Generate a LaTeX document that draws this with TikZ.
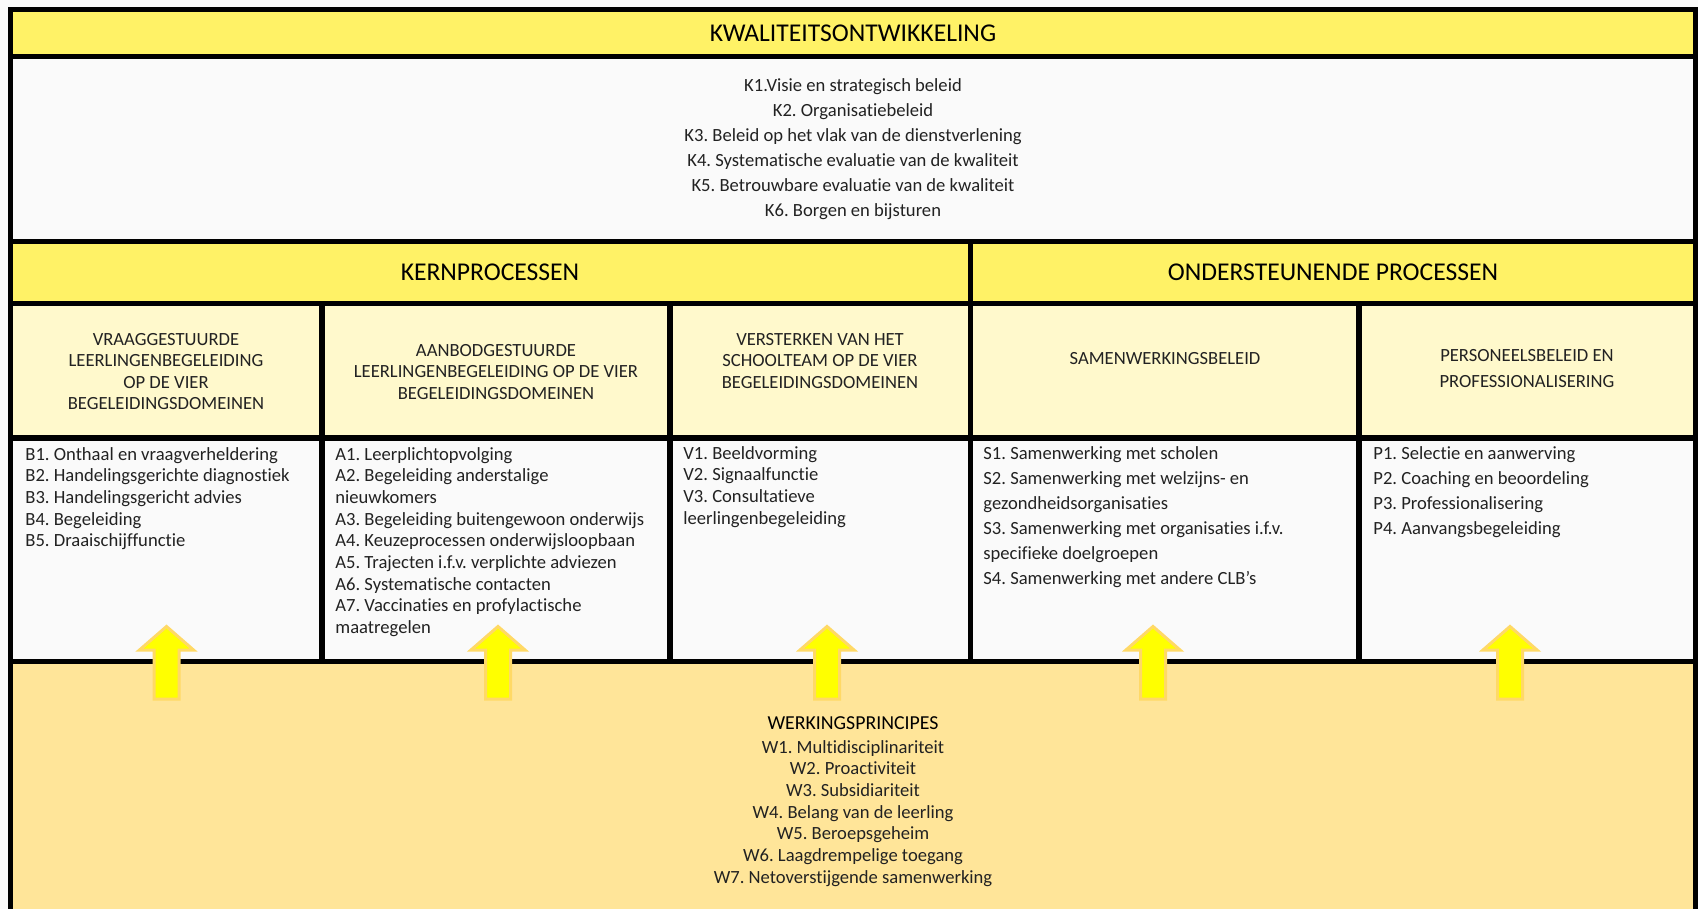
\documentclass[tikz,border=0pt]{standalone}
\usepackage{fontspec}
\setmainfont{Carlito}[Ligatures={NoCommon}]
\frenchspacing
\definecolor{bgc}{HTML}{FAFAFA}
\definecolor{baryellow}{HTML}{FFF266}
\definecolor{hdrcream}{HTML}{FFF9CC}
\definecolor{peach}{HTML}{FFE599}
\definecolor{arrowfill}{HTML}{FFFF00}
\definecolor{arrowedge}{HTML}{FFD966}
\definecolor{textc}{HTML}{222222}
\tikzset{
  txt/.style={inner sep=0pt, text=textc, font=\fontsize{9.3}{11}\selectfont},
  lft/.style={txt, anchor=base west},
  ctr/.style={txt, anchor=base},
  ttl/.style={inner sep=0pt, anchor=base, text=black, font=\fontsize{12.8}{15}\selectfont},
  wttl/.style={inner sep=0pt, anchor=base, text=black, font=\fontsize{9.9}{12}\selectfont},
  gridline/.style={draw=black, line width=2.6pt},
  uparrow/.style={fill=arrowfill, draw=arrowedge, line width=1.5pt, line join=miter}
}
\begin{document}
\begin{tikzpicture}[x=0.5pt,y=-0.5pt]
\useasboundingbox (0,0) rectangle (1698,909);
% backgrounds
\fill[bgc] (0,0) rectangle (1698,909);
\fill[baryellow] (10.7,9.3) rectangle (1695.3,56.3);
\fill[baryellow] (10.7,241.5) rectangle (1695.3,303.5);
\fill[hdrcream] (10.7,303.5) rectangle (1695.3,438);
\fill[peach] (10.7,661.5) rectangle (1695.3,909);
% grid lines
\draw[gridline, line join=miter] (10.7,909) -- (10.7,9.3) -- (1695.3,9.3) -- (1695.3,909);
\foreach \yy in {56.3,241.5,303.5,438,661.5}
  \draw[gridline] (10.7,\yy) -- (1695.3,\yy);
\foreach \xx in {322,670,1359}
  \draw[gridline] (\xx,303.5) -- (\xx,661.5);
\draw[gridline] (970.5,241.5) -- (970.5,661.5);
% titles
\node[ttl] (kwal) at (853,41.3) {KWALITEITSONTWIKKELING};
\node[ttl] (kern) at (490,281) {KERNPROCESSEN};
\node[ttl] (onder) at (1333,281) {ONDERSTEUNENDE PROCESSEN};
% K list
\foreach \t [count=\i from 0] in {K1.Visie en strategisch beleid, K2. Organisatiebeleid, K3. Beleid op het vlak van de dienstverlening, K4. Systematische evaluatie van de kwaliteit, K5. Betrouwbare evaluatie van de kwaliteit, K6. Borgen en bijsturen}
  \node[ctr] (k\i) at (853,{91.7+25*\i}) {\t};
% header cells
\foreach \t [count=\i from 0] in {VRAAGGESTUURDE, LEERLINGENBEGELEIDING, OP DE VIER, BEGELEIDINGSDOMEINEN}
  \node[ctr] (ha\i) at (166,{345.6+21.3*\i}) {\t};
\foreach \t [count=\i from 0] in {AANBODGESTUURDE, LEERLINGENBEGELEIDING OP DE VIER, BEGELEIDINGSDOMEINEN}
  \node[ctr] (hb\i) at (496,{356.5+21.3*\i}) {\t};
\foreach \t [count=\i from 0] in {VERSTERKEN VAN HET, SCHOOLTEAM OP DE VIER, BEGELEIDINGSDOMEINEN}
  \node[ctr] (hc\i) at (820,{345.6+21.3*\i}) {\t};
\node[ctr] (hd0) at (1165,364.5) {SAMENWERKINGSBELEID};
\foreach \t [count=\i from 0] in {PERSONEELSBELEID EN, PROFESSIONALISERING}
  \node[ctr] (he\i) at (1527,{362+25.5*\i}) {\t};
% content lists
\foreach \t [count=\i from 0] in {B1. Onthaal en vraagverheldering, B2. Handelingsgerichte diagnostiek, B3. Handelingsgericht advies, B4. Begeleiding, B5. Draaischijffunctie}
  \node[lft] (b\i) at (25,{460+21.7*\i}) {\t};
\foreach \t [count=\i from 0] in {A1. Leerplichtopvolging, A2. Begeleiding anderstalige, nieuwkomers, A3. Begeleiding buitengewoon onderwijs, A4. Keuzeprocessen onderwijsloopbaan, A5. Trajecten i.f.v. verplichte adviezen, A6. Systematische contacten, A7. Vaccinaties en profylactische, maatregelen}
  \node[lft] (a\i) at (335,{460+21.7*\i}) {\t};
\foreach \t [count=\i from 0] in {V1. Beeldvorming, V2. Signaalfunctie, V3. Consultatieve, leerlingenbegeleiding}
  \node[lft] (v\i) at (683,{459+21.7*\i}) {\t};
\foreach \t [count=\i from 0] in {S1. Samenwerking met scholen, S2. Samenwerking met welzijns- en, gezondheidsorganisaties, S3. Samenwerking met organisaties i.f.v., specifieke doelgroepen, S4. Samenwerking met andere CLB’s}
  \node[lft] (s\i) at (983,{459+25*\i}) {\t};
\foreach \t [count=\i from 0] in {P1. Selectie en aanwerving, P2. Coaching en beoordeling, P3. Professionalisering, P4. Aanvangsbegeleiding}
  \node[lft] (p\i) at (1373,{459+25*\i}) {\t};
% arrows
\foreach \ax in {166.5,498,827,1153,1510}
  \draw[uparrow] (\ax-12.5,699) -- (\ax-12.5,650) -- (\ax-27,650) -- (\ax,626.5) -- (\ax+27,650) -- (\ax+12.5,650) -- (\ax+12.5,699) -- cycle;
% werkingsprincipes
\node[wttl] (wt) at (853,729) {WERKINGSPRINCIPES};
\foreach \t [count=\i from 0] in {W1. Multidisciplinariteit, W2. Proactiviteit, W3. Subsidiariteit, W4. Belang van de leerling, W5. Beroepsgeheim, W6. Laagdrempelige toegang, W7. Netoverstijgende samenwerking}
  \node[ctr] (w\i) at (853,{753+21.7*\i}) {\t};
\end{tikzpicture}
\end{document}
